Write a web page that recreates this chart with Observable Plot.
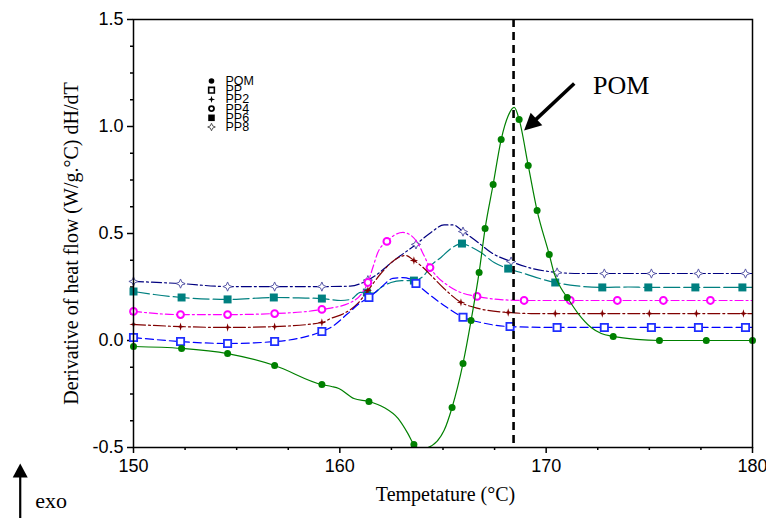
<!DOCTYPE html>
<html><head><meta charset="utf-8">
<script src="https://cdn.jsdelivr.net/npm/d3@7"></script>
<script src="https://cdn.jsdelivr.net/npm/@observablehq/plot@0.6"></script>
<style>html,body{margin:0;padding:0;background:#fff;}#chart{width:766px;height:518px;}</style>
</head><body><div id="chart"></div>
<script>
// ---------- data: [temperature °C, dH/dT, marker?] ----------
const seriesNames = ["POM", "PP", "PP2", "PP4", "PP6", "PP8"];

const POM = [[150,-0.028,1],[152.33,-0.037,1],[154.56,-0.061,1],[156.84,-0.117,1],[159.13,-0.206,1],[159.6,-0.215,0],[159.95,-0.224,0],[160.68,-0.271,0],[161.41,-0.285,1],[162.14,-0.313,0],[162.82,-0.364,0],[163.30,-0.435,0],[163.59,-0.486,1],[163.93,-0.505,0],[164.27,-0.500,0],[165.05,-0.421,0],[165.44,-0.313,1],[165.97,-0.107,1],[166.36,0.093,1],[166.75,0.318,1],[167.04,0.523,1],[167.43,0.729,1],[167.82,0.939,1],[168.16,1.050,0],[168.45,1.089,0],[168.69,1.033,1],[169.13,0.818,1],[169.56,0.607,1],[170.15,0.402,1],[170.39,0.313,0],[170.73,0.243,0],[171.02,0.201,1],[171.55,0.126,0],[172.18,0.061,0],[172.67,0.033,0],[173.25,0.019,1],[174.37,0.005,0],[175.49,0.0,1],[177.76,0.0,1],[180,0.0,1]];

const PP = [[150,0.014,1],[152.28,-0.005,1],[154.56,-0.014,1],[156.84,-0.005,1],[158,0.010,0],[159.13,0.042,1],[159.56,0.061,0],[160.39,0.126,0],[161.02,0.178,0],[161.41,0.201,1],[161.99,0.248,0],[162.57,0.290,0],[163.06,0.294,0],[163.45,0.285,0],[163.69,0.266,1],[164.27,0.220,0],[165.05,0.164,0],[165.97,0.109,1],[166.84,0.084,0],[168.25,0.065,1],[170.53,0.061,1],[172.82,0.061,1],[175.10,0.061,1],[177.38,0.061,1],[179.66,0.061,1],[180,0.061,0]];

const PP2 = [[150,0.075,1],[152.28,0.065,1],[154.56,0.061,1],[156.84,0.065,1],[159.13,0.084,1],[159.56,0.103,0],[160.19,0.126,0],[160.87,0.173,0],[161.36,0.234,1],[161.99,0.313,0],[162.62,0.374,0],[163.20,0.397,0],[163.59,0.374,1],[163.93,0.350,0],[164.42,0.304,0],[165.05,0.243,0],[165.87,0.178,1],[166.70,0.150,0],[168.16,0.131,1],[169.27,0.126,0],[170.44,0.126,1],[172.72,0.126,1],[175.00,0.126,1],[177.28,0.126,1],[179.56,0.126,1],[180,0.126,0]];

const PP4 = [[150,0.136,1],[152.28,0.121,1],[154.56,0.121,1],[156.84,0.126,1],[159.13,0.145,1],[160.53,0.178,0],[161.10,0.225,0],[161.36,0.271,1],[161.60,0.341,0],[161.84,0.411,0],[162.28,0.463,1],[162.62,0.491,0],[163.06,0.505,0],[163.45,0.491,0],[163.79,0.453,0],[164.08,0.397,0],[164.37,0.341,1],[164.76,0.294,0],[165.24,0.257,0],[165.87,0.224,0],[166.65,0.206,1],[167.67,0.192,0],[168.93,0.187,1],[171.17,0.187,1],[173.45,0.187,1],[175.68,0.187,1],[177.96,0.187,1],[180,0.187,0]];

const PP6 = [[150,0.229,1],[151,0.215,0],[152.33,0.201,1],[154.56,0.192,1],[156.80,0.201,1],[158,0.199,0],[159.13,0.196,1],[160.05,0.187,0],[160.53,0.192,0],[161.0,0.225,0],[161.31,0.224,1],[161.65,0.222,0],[162.0,0.248,0],[162.48,0.271,0],[163.0,0.280,0],[163.59,0.280,1],[164.08,0.304,0],[164.42,0.350,0],[164.90,0.388,0],[165.39,0.430,0],[165.92,0.453,1],[166.36,0.437,0],[166.84,0.411,0],[167.48,0.364,0],[168.16,0.336,1],[168.93,0.313,0],[169.5,0.295,0],[170.44,0.271,1],[171.5,0.255,0],[172.72,0.248,1],[174.0,0.250,0],[174.95,0.248,1],[177.23,0.248,1],[179.51,0.248,1],[180,0.248,0]];

const PP8 = [[150,0.276,1],[152.28,0.266,1],[154.56,0.252,1],[156.84,0.252,1],[159.13,0.252,1],[160.5,0.254,0],[161.36,0.282,1],[162.82,0.388,0],[163.69,0.449,1],[164.42,0.505,0],[165.05,0.540,0],[165.5,0.540,0],[165.97,0.509,1],[166.70,0.458,0],[167.33,0.411,0],[168.30,0.369,1],[169.27,0.338,0],[170.53,0.318,1],[171.7,0.313,0],[172.82,0.313,1],[175.10,0.313,1],[177.38,0.313,1],[179.66,0.313,1],[180,0.313,0]];

const seriesData = [POM, PP, PP2, PP4, PP6, PP8];

const xMajor = [150, 160, 170, 180];
const xMinor = [152.5, 155, 157.5, 162.5, 165, 167.5, 172.5, 175, 177.5];
const yMajor = [-0.5, 0, 0.5, 1.0, 1.5];
const yMinor = [-0.375, -0.25, -0.125, 0.125, 0.25, 0.375, 0.625, 0.75, 0.875, 1.125, 1.25, 1.375];

const peakLine = [168.42];
const xLabel = "Tempetature (°C)";
const yLabel = "Derivative of heat flow (W/g.°C) dH/dT";

// annotations: arrows (from -> to) and texts
const arrowFromT = [171.36, 144.51];
const arrowFromV = [1.201, -0.832];
const arrowToT = [168.93, 144.51];
const arrowToV = [0.981, -0.575];
const annoText = ["POM", "exo"];
const annoT = [172.27, 145.24];
const annoV = [1.1925, -0.752];

// ---------- layout & style ----------
const W = 766, H = 518, ML = 133, MR = 14, MT = 19, MB = 71;
const xDom = [150, 180], yDom = [-0.5, 1.5];
const kx = (W - ML - MR) / (xDom[1] - xDom[0]);
const ky = (H - MT - MB) / (yDom[1] - yDom[0]);

function star4(inner) {
  return {draw(ctx, size) {
    const r = Math.sqrt(size / Math.PI), i = r * inner;
    ctx.moveTo(0, -r); ctx.lineTo(i, -i); ctx.lineTo(r, 0); ctx.lineTo(i, i);
    ctx.lineTo(0, r); ctx.lineTo(-i, i); ctx.lineTo(-r, 0); ctx.lineTo(-i, -i); ctx.closePath();
  }};
}
function tri(len, wid) {
  return {draw(ctx) { ctx.moveTo(0, 0); ctx.lineTo(wid / 2, len); ctx.lineTo(-wid / 2, len); ctx.closePath(); }};
}

const styles = {
  POM: {color: "#008000", dash: null, symbol: "circle", r: 3.5, fill: "#008000", stroke: "none", sw: 0,
        lg: {symbol: "circle", r: 2.8, fill: "black", stroke: "none", sw: 0}},
  PP:  {color: "#0000ff", dash: "8,4", symbol: "square", r: 4.1, fill: "white", stroke: "#1f2fff", sw: 1.8,
        lg: {symbol: "square", r: 3.2, fill: "white", stroke: "black", sw: 1.6}},
  PP2: {color: "#800000", dash: "12,3,2,3", symbol: star4(0.22), r: 4.2, fill: "#800000", stroke: "none", sw: 0,
        lg: {symbol: star4(0.22), r: 3.6, fill: "black", stroke: "none", sw: 0}},
  PP4: {color: "#ff00ff", dash: "8,3,2,3", symbol: "circle", r: 3.4, fill: "white", stroke: "#ff00ff", sw: 2,
        lg: {symbol: "circle", r: 2.5, fill: "white", stroke: "black", sw: 1.8}},
  PP6: {color: "#008080", dash: "16,4", symbol: "square", r: 4.5, fill: "#008080", stroke: "none", sw: 0,
        lg: {symbol: "square", r: 3.7, fill: "black", stroke: "none", sw: 0}},
  PP8: {color: "#000080", dash: "10,3,2,3", symbol: star4(0.3), r: 4.6, fill: "white", stroke: "#5a5aa8", sw: 1,
        lg: {symbol: star4(0.3), r: 3.8, fill: "white", stroke: "#555", sw: 1}}
};

const table = seriesNames.flatMap((s, k) => seriesData[k].map(([T, v, m]) => ({s, T, v, m})));

const marks = [];
// axes
marks.push(Plot.axisX({ticks: xMinor, tickSize: 3, tickFormat: () => "", label: null, strokeWidth: 1.5}));
marks.push(Plot.axisX({ticks: xMajor, tickSize: 6, tickPadding: 6, tickFormat: d => String(d), label: null, strokeWidth: 1.5, fontSize: 18}));
marks.push(Plot.axisY({ticks: yMinor, tickSize: 3, tickFormat: () => "", label: null, strokeWidth: 1.5}));
marks.push(Plot.axisY({ticks: yMajor, tickSize: 6, tickPadding: 4, tickFormat: d => d.toFixed(1), label: null, strokeWidth: 1.5, fontSize: 18}));

// series (PP8 first so POM is on top)
[...seriesNames].reverse().forEach(name => {
  const st = styles[name];
  const rows = table.filter(d => d.s === name);
  marks.push(Plot.line(rows, {x: "T", y: "v", stroke: st.color, strokeWidth: 1.2, strokeDasharray: st.dash, curve: "monotone-x", clip: true}));
  marks.push(Plot.dot(rows.filter(d => d.m), {x: "T", y: "v", symbol: st.symbol, r: st.r, fill: st.fill, stroke: st.stroke, strokeWidth: st.sw}));
});

// dashed peak line
marks.push(Plot.ruleX(peakLine, {x: d => d, stroke: "black", strokeWidth: 2.6, strokeDasharray: "8,5"}));

// arrows
const headLen = [17, 14], headWid = [17, 15], shaftW = [3.5, 2.2];
arrowFromT.forEach((_, i) => {
  const dxp = (arrowToT[i] - arrowFromT[i]) * kx, dyp = -(arrowToV[i] - arrowFromV[i]) * ky;
  const L = Math.hypot(dxp, dyp), ux = dxp / L, uy = dyp / L;
  const bT = arrowToT[i] - ux * (headLen[i] - 1) / kx;
  const bV = arrowToV[i] + uy * (headLen[i] - 1) / ky;
  const ang = Math.atan2(ux, -uy) * 180 / Math.PI;
  marks.push(Plot.link([i], {x1: () => arrowFromT[i], y1: () => arrowFromV[i], x2: () => bT, y2: () => bV, stroke: "black", strokeWidth: shaftW[i]}));
  marks.push(Plot.dot([i], {x: () => arrowToT[i], y: () => arrowToV[i], symbol: tri(headLen[i], headWid[i]), fill: "black", stroke: "none", rotate: ang}));
});

// annotation texts
const annoSize = [26, 22];
annoText.forEach((t, i) => {
  marks.push(Plot.text([t], {x: () => annoT[i], y: () => annoV[i], text: d => d, textAnchor: "start", lineAnchor: "middle", fontFamily: "Liberation Serif", fontSize: annoSize[i], fill: "black"}));
});

// axis titles
marks.push(Plot.text([xLabel], {frameAnchor: "bottom", dx: 2.5, dy: 46.6, text: d => d, fontFamily: "Liberation Serif", fontSize: 20, textAnchor: "middle", lineAnchor: "middle", fill: "black"}));
marks.push(Plot.text([yLabel], {frameAnchor: "left", dx: -61.5, dy: 10, rotate: -90, text: d => d, fontFamily: "Liberation Serif", fontSize: 20, textAnchor: "middle", lineAnchor: "middle", fill: "black"}));

// legend
seriesNames.forEach((name, i) => {
  const lg = styles[name].lg;
  const dy = 61.5 + 9.2 * i;
  marks.push(Plot.dot([name], {frameAnchor: "top-left", dx: 78, dy, symbol: lg.symbol, r: lg.r, fill: lg.fill, stroke: lg.stroke, strokeWidth: lg.sw}));
  marks.push(Plot.text([name], {frameAnchor: "top-left", dx: 92, dy, text: d => d, textAnchor: "start", lineAnchor: "middle", fontSize: 12.5, fill: "black"}));
});

marks.push(Plot.frame({stroke: "black", strokeWidth: 1.5}));

const plot = Plot.plot({
  width: W, height: H,
  marginLeft: ML, marginRight: MR, marginTop: MT, marginBottom: MB,
  x: {domain: xDom},
  y: {domain: yDom},
  style: {fontFamily: "'Liberation Sans', Arial, sans-serif", fontSize: "18px", color: "black", background: "white", overflow: "visible"},
  marks
});
document.getElementById("chart").appendChild(plot);
</script>
</body></html>
